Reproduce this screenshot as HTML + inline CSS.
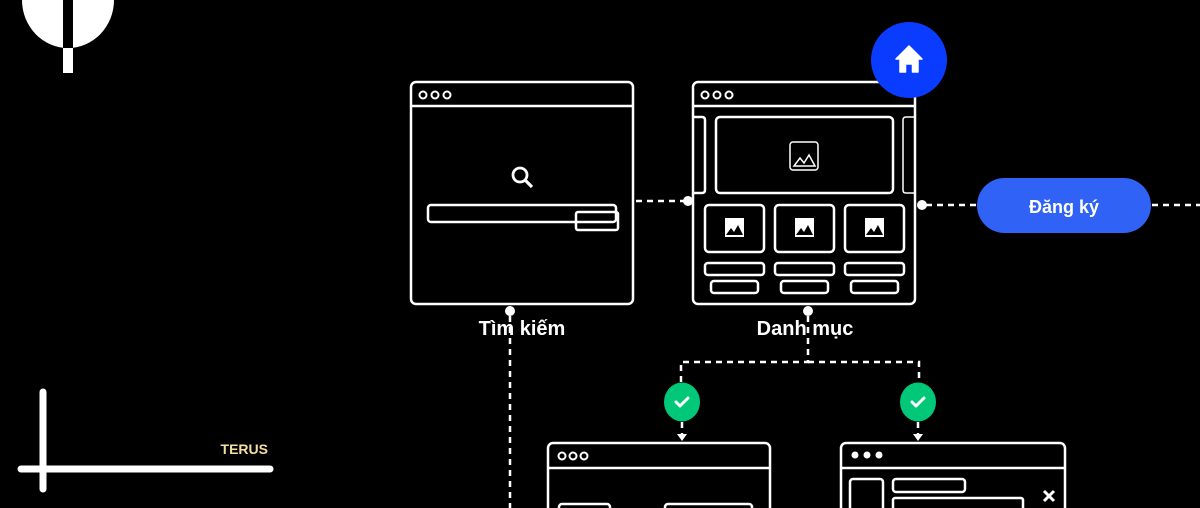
<!DOCTYPE html>
<html><head><meta charset="utf-8"><style>
html,body{margin:0;padding:0;background:#000;}
svg{display:block}
text{font-family:"Liberation Sans",sans-serif}
</style></head><body>
<svg width="1200" height="508" viewBox="0 0 1200 508" xmlns="http://www.w3.org/2000/svg">
<rect width="1200" height="508" fill="#000"/>
<!-- logo -->
<path d="M22 0 A46 48 0 0 0 114 0 Z" fill="#fff"/>
<rect x="63" y="0" width="10" height="48" fill="#000"/>
<rect x="63" y="48" width="10" height="25" fill="#fff"/>
<!-- bottom-left -->
<line x1="43" y1="392" x2="43" y2="489" stroke="#fff" stroke-width="7" stroke-linecap="round"/>
<line x1="21" y1="469" x2="270" y2="469" stroke="#fff" stroke-width="7" stroke-linecap="round"/>
<text x="268" y="454" text-anchor="end" font-size="14" font-weight="bold" fill="#f5dfa0">TERUS</text>

<g fill="none" stroke="#fff" stroke-width="2.5">
<!-- window 1 -->
<rect x="411" y="82" width="222" height="222" rx="5"/>
<line x1="411" y1="106" x2="633" y2="106"/>
<circle cx="423" cy="95" r="3.5" stroke-width="2"/><circle cx="435" cy="95" r="3.5" stroke-width="2"/><circle cx="447" cy="95" r="3.5" stroke-width="2"/>
<circle cx="520" cy="175" r="7" stroke-width="2.8"/>
<line x1="525.5" y1="180.5" x2="532" y2="187" stroke-width="3.2"/>
<rect x="428" y="205" width="188" height="17" rx="3"/>
<rect x="576" y="212" width="42" height="18" rx="2"/>
<!-- window 2 -->
<rect x="693" y="82" width="222" height="222" rx="5"/>
<line x1="693" y1="106" x2="915" y2="106"/>
<circle cx="705" cy="95" r="3.5" stroke-width="2"/><circle cx="717" cy="95" r="3.5" stroke-width="2"/><circle cx="729" cy="95" r="3.5" stroke-width="2"/>
<rect x="716" y="117" width="177" height="76" rx="4"/>
<path d="M693 117 H702 Q705 117 705 120 V190 Q705 193 702 193 H693"/>
<path d="M915 117 H906 Q903 117 903 120 V190 Q903 193 906 193 H915" stroke-width="1.5"/>
<rect x="790" y="142" width="28" height="28" rx="3" stroke-width="1.5"/>
<rect x="705" y="205" width="59" height="47" rx="4"/>
<rect x="775" y="205" width="59" height="47" rx="4"/>
<rect x="845" y="205" width="59" height="47" rx="4"/>
<rect x="705" y="263" width="59" height="12" rx="3"/>
<rect x="775" y="263" width="59" height="12" rx="3"/>
<rect x="845" y="263" width="59" height="12" rx="3"/>
<rect x="711" y="281" width="47" height="12" rx="3"/>
<rect x="781" y="281" width="47" height="12" rx="3"/>
<rect x="851" y="281" width="47" height="12" rx="3"/>
<!-- bottom windows -->
<rect x="548" y="443" width="222" height="80" rx="5"/>
<line x1="548" y1="468" x2="770" y2="468"/>
<circle cx="562" cy="456" r="3.5" stroke-width="2"/><circle cx="573" cy="456" r="3.5" stroke-width="2"/><circle cx="584" cy="456" r="3.5" stroke-width="2"/>
<rect x="559" y="504" width="51" height="20" rx="3"/>
<rect x="665" y="504" width="87" height="20" rx="3"/>
<rect x="841" y="443" width="224" height="80" rx="5"/>
<line x1="841" y1="468" x2="1065" y2="468"/>
<rect x="850" y="479" width="33" height="40" rx="3"/>
<rect x="893" y="479" width="72" height="13" rx="3"/>
<rect x="893" y="498" width="130" height="20" rx="2"/>
<path d="M1044 491 L1054 501 M1054 491 L1044 501" stroke-width="3"/>
</g>
<circle cx="855" cy="455" r="3.5" fill="#fff"/><circle cx="867" cy="455" r="3.5" fill="#fff"/><circle cx="879" cy="455" r="3.5" fill="#fff"/>
<!-- image icons -->
<path d="M794 166 L800 158 L804 163 L809 155 L815 166 Z" fill="none" stroke="#fff" stroke-width="1.5"/>
<g fill="#fff">
<rect x="725" y="218" width="19" height="19"/><rect x="795" y="218" width="19" height="19"/><rect x="865" y="218" width="19" height="19"/>
</g>
<g fill="#000">
<path d="M726 235 L731 228 L734 232 L738 225 L743 235Z"/>
<path d="M796 235 L801 228 L804 232 L808 225 L813 235Z"/>
<path d="M866 235 L871 228 L874 232 L878 225 L883 235Z"/>
</g>
<!-- connectors -->
<g stroke="#fff" stroke-width="2.5" stroke-dasharray="6 5" fill="none">
<line x1="636" y1="201" x2="686" y2="201"/>
<line x1="926" y1="205" x2="977" y2="205"/>
<line x1="1152" y1="205" x2="1200" y2="205"/>
<line x1="510" y1="316" x2="510" y2="508"/>
<path d="M808 316 V362 H681 V383"/>
<path d="M808 362 H919 V383"/>
<line x1="682" y1="422" x2="682" y2="434"/>
<line x1="918" y1="422" x2="918" y2="434"/>
</g>
<g fill="#fff">
<circle cx="688" cy="201" r="5"/><circle cx="922" cy="205" r="5"/>
<circle cx="510" cy="311" r="5"/><circle cx="808" cy="311" r="5"/>
<path d="M677 434 L687 434 L682 441Z"/><path d="M913 434 L923 434 L918 441Z"/>
</g>
<text x="522" y="335" text-anchor="middle" font-size="20" font-weight="bold" fill="#fff">Tìm kiếm</text>
<text x="805" y="335" text-anchor="middle" font-size="20" font-weight="bold" fill="#fff">Danh mục</text>
<!-- checks -->
<ellipse cx="682" cy="402" rx="18" ry="19.5" fill="#00c878"/>
<ellipse cx="918" cy="402" rx="18" ry="19.5" fill="#00c878"/>
<path d="M676 402 L680 406 L688 398" stroke="#fff" stroke-width="3" fill="none" stroke-linecap="round" stroke-linejoin="round"/>
<path d="M912 402 L916 406 L924 398" stroke="#fff" stroke-width="3" fill="none" stroke-linecap="round" stroke-linejoin="round"/>
<!-- button -->
<rect x="977" y="178" width="174" height="55" rx="27.5" fill="#3062f5"/>
<text x="1064" y="213" text-anchor="middle" font-size="18" font-weight="bold" fill="#fff">Đăng ký</text>
<!-- home -->
<circle cx="909" cy="60" r="38" fill="#0a3cff"/>
<path d="M896 59 L909 46 L922 59 L918 59 L918 72 L912.5 72 L912.5 64 L905.5 64 L905.5 72 L900 72 L900 59 Z" fill="#fff" stroke="#fff" stroke-width="1.5" stroke-linejoin="round"/>
</svg>
</body></html>
